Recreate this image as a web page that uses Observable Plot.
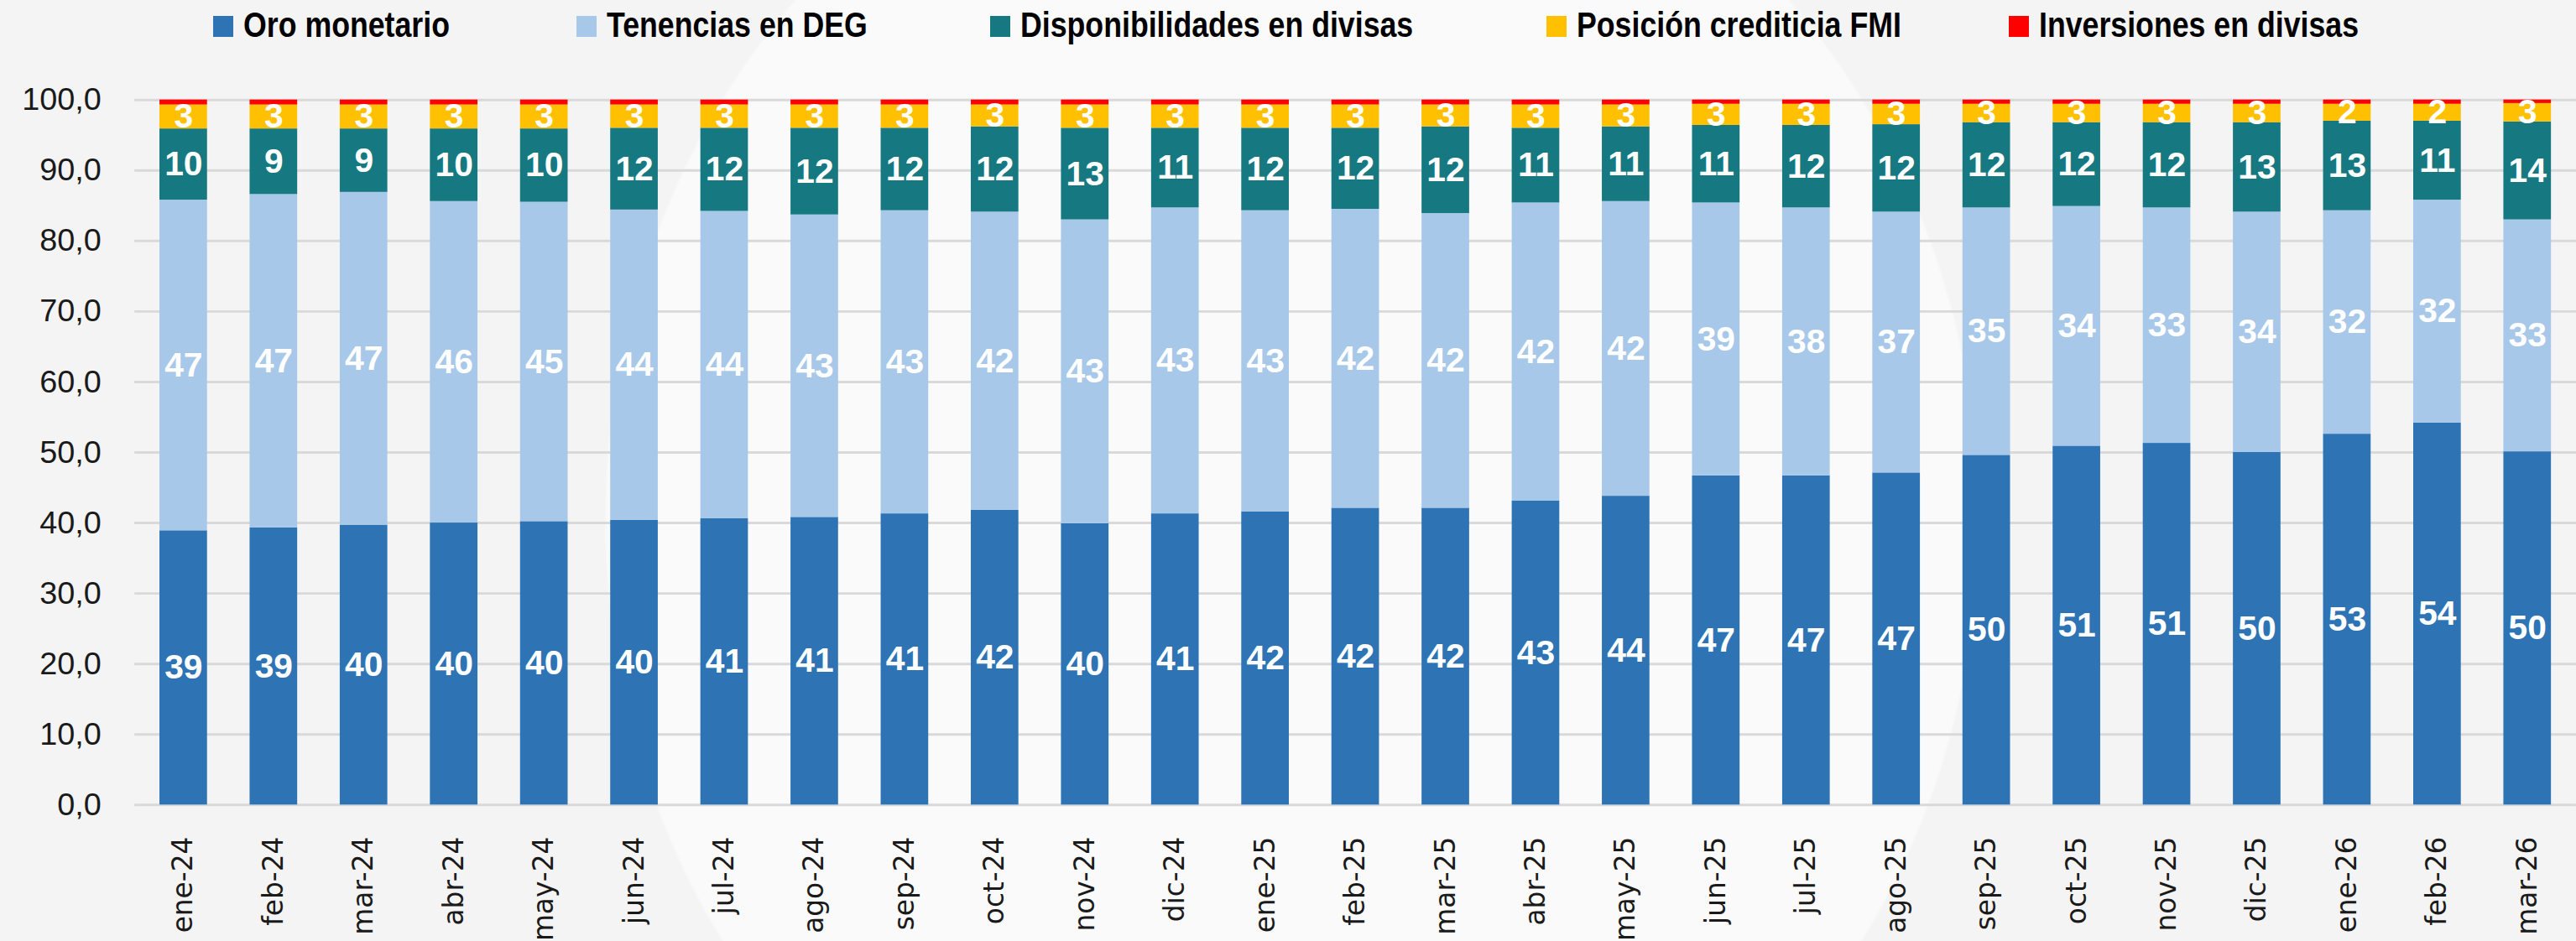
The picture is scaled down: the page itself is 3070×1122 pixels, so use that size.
<!DOCTYPE html>
<html>
<head>
<meta charset="utf-8">
<script src="https://cdn.jsdelivr.net/npm/d3@7"></script>
<script src="https://cdn.jsdelivr.net/npm/@observablehq/plot@0.6"></script>
<style>
  html, body { margin: 0; padding: 0; overflow: hidden; }
  body {
    width: 3070px; height: 1122px;
    background: radial-gradient(ellipse 820px 900px at 1540px 620px, #fafafa 99.6%, #f4f4f4 100%);
    font-family: "Liberation Sans", Arial, sans-serif;
  }
  #legend { height: 60px; position: relative; width: 3070px; }
  .item { display: flex; align-items: center; font-weight: bold; color: #000; white-space: nowrap;
          position: absolute; top: 5px; height: 50px; }
  .sw { width: 24px; height: 25px; margin-right: 12px; flex: none; margin-top: 3px; }
  .tx { display: inline-block; font-size: 42px; transform: scaleX(0.85); transform-origin: left center; }
  #chart svg { display: block; }
</style>
</head>
<body>
<div id="legend"></div>
<div id="chart"></div>
<script>
const months = ["ene-24","feb-24","mar-24","abr-24","may-24","jun-24","jul-24","ago-24","sep-24","oct-24","nov-24","dic-24",
                "ene-25","feb-25","mar-25","abr-25","may-25","jun-25","jul-25","ago-25","sep-25","oct-25","nov-25","dic-25",
                "ene-26","feb-26","mar-26"];
const seriesNames = ["Oro monetario","Tenencias en DEG","Disponibilidades en divisas","Posición crediticia FMI","Inversiones en divisas"];
const colors = ["#2E74B5","#A8C8EA","#167880","#FFC000","#FF0000"];

const oro              = [38.9,39.3,39.7,40.0,40.2,40.4,40.6,40.8,41.3,41.8,39.9,41.3,41.6,42.1,42.1,43.1,43.8,46.7,46.7,47.1,49.6,50.9,51.3,50.0,52.6,54.2,50.1];
const tenencias        = [46.9,47.3,47.2,45.6,45.3,44.0,43.6,42.9,43.0,42.3,43.1,43.4,42.7,42.4,41.8,42.3,41.8,38.7,38.0,37.0,35.1,34.0,33.4,34.1,31.7,31.6,32.9];
const disponibilidades = [10.1, 9.3, 9.0,10.3,10.4,11.6,11.8,12.3,11.7,12.1,13.0,11.3,11.7,11.5,12.3,10.6,10.6,11.0,11.7,12.4,12.1,11.9,12.1,12.7,12.7,11.2,13.9];
const posicion         = [ 3.4, 3.4, 3.4, 3.4, 3.4, 3.3, 3.3, 3.3, 3.3, 3.1, 3.3, 3.3, 3.3, 3.3, 3.1, 3.3, 3.1, 3.0, 3.0, 2.9, 2.6, 2.6, 2.6, 2.6, 2.4, 2.4, 2.6];
const inversiones      = [ 0.7, 0.7, 0.7, 0.7, 0.7, 0.7, 0.7, 0.7, 0.7, 0.7, 0.7, 0.7, 0.7, 0.7, 0.7, 0.7, 0.7, 0.6, 0.6, 0.6, 0.6, 0.6, 0.6, 0.6, 0.6, 0.6, 0.5];
const yTicks = [0,10,20,30,40,50,60,70,80,90,100];

const seriesValues = [oro, tenencias, disponibilidades, posicion, inversiones];
const data = months.flatMap((m, i) => seriesNames.map((s, k) => ({month: m, series: s, value: seriesValues[k][i]})));

// swatch left positions in the reference legend (layout)
const legendLeft = [254, 687, 1180, 1843, 2394];
const legend = document.getElementById("legend");
seriesNames.forEach((s, k) => {
  const it = document.createElement("div"); it.className = "item";
  it.style.left = legendLeft[k] + "px";
  const sw = document.createElement("div"); sw.className = "sw"; sw.style.background = colors[k];
  const tx = document.createElement("span"); tx.className = "tx"; tx.textContent = s;
  it.appendChild(sw); it.appendChild(tx); legend.appendChild(it);
});

const chart = Plot.plot({
  width: 3086, height: 1062,
  marginTop: 59, marginBottom: 158, marginLeft: 161, marginRight: 0,
  x: {domain: months, paddingInner: 0.474, paddingOuter: 0.24, align: 0.5, axis: null},
  y: {domain: [0, 100], axis: null},
  color: {domain: seriesNames, range: colors},
  style: {background: "transparent", fontFamily: "'Liberation Sans', Arial, sans-serif", overflow: "visible"},
  marks: [
    Plot.ruleY(yTicks, {stroke: "#d9d9d9", strokeWidth: 3}),
    Plot.barY(data, {x: "month", y: "value", fill: "series", order: seriesNames}),
    Plot.text(data.filter(d => d.series !== seriesNames[4]), Plot.stackY({
      x: "month", y: "value", z: "series", order: seriesNames,
      text: d => String(Math.round(d.value)),
      fill: "white", fontWeight: "bold", fontSize: 41
    })),
    Plot.axisY({ticks: yTicks, tickSize: 0, tickPadding: 40, fontSize: 38, fill: "#1a1a1a", label: null,
      tickFormat: d => d.toFixed(1).replace(".", ",")}),
    Plot.axisX({tickSize: 0, tickPadding: 38, tickRotate: -90, fontSize: 33, label: null,
      fontFamily: "'DejaVu Sans', sans-serif", fill: "#1a1a1a"})
  ]
});
document.getElementById("chart").appendChild(chart);
</script>
</body>
</html>
